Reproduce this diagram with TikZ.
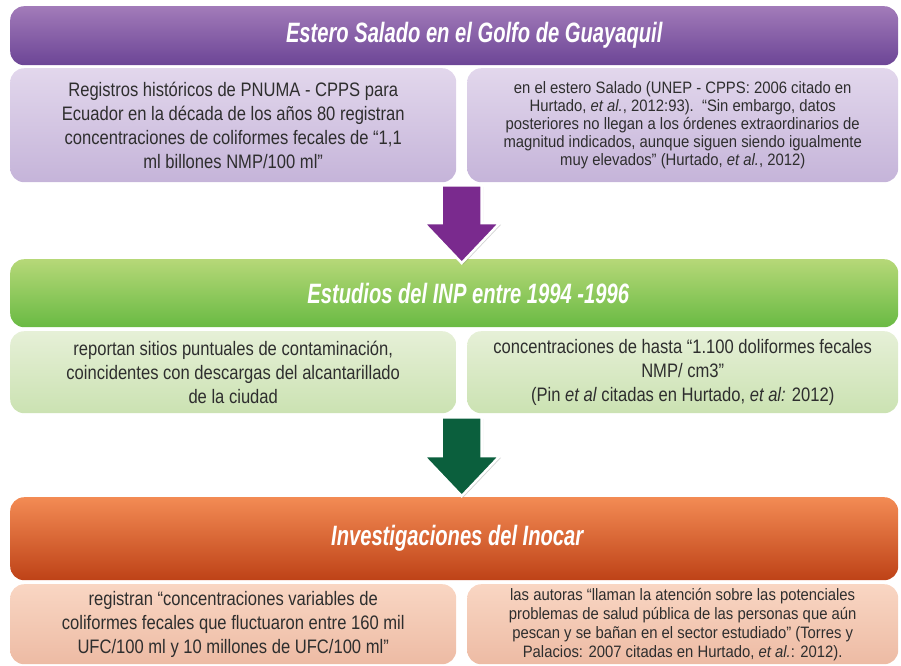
\documentclass[tikz,border=0pt]{standalone}
\usepackage{fontspec}
\setmainfont[FakeStretch=0.85]{Liberation Sans}
\newfontfamily\headfont[FakeStretch=0.72]{Liberation Sans}
\newfontfamily\notefont[FakeStretch=0.9]{Liberation Sans}
\usetikzlibrary{positioning,calc,shadows}

\definecolor{purpleTop}{HTML}{A27BB9}
\definecolor{purpleBot}{HTML}{6C4596}
\definecolor{lilacTop}{HTML}{E2D7EC}
\definecolor{lilacBot}{HTML}{C5B4D9}
\definecolor{arrowPurple}{HTML}{7A2A8E}
\definecolor{greenTop}{HTML}{B6D878}
\definecolor{greenBot}{HTML}{69BA43}
\definecolor{mintTop}{HTML}{E6F0D7}
\definecolor{mintBot}{HTML}{CBE2B2}
\definecolor{arrowGreen}{HTML}{0B5F3D}
\definecolor{orangeTop}{HTML}{F38B54}
\definecolor{orangeBot}{HTML}{BE4217}
\definecolor{peachTop}{HTML}{F9D6C3}
\definecolor{peachBot}{HTML}{EDBBA4}
\definecolor{textgray}{HTML}{2E2E2E}

% block arrow: tail, tip, colour
\newcommand{\downblock}[3]{%
  \draw[white, line width=2.5pt, fill=#3,
        drop shadow={opacity=.35, shadow xshift=1.5pt, shadow yshift=-1.5pt}]
    ($(#1)+(-20,0)$) -- ($(#1)+(20,0)$) -- ($(#2)+(20,-40)$) -- ($(#2)+(38,-40)$)
    -- (#2) -- ($(#2)+(-38,-40)$) -- ($(#2)+(-20,-40)$) -- cycle;}

\begin{document}
\begin{tikzpicture}[x=1pt,y=-1pt,
  header/.style={rounded corners=14pt, minimum width=888pt, anchor=north west, inner sep=0pt},
  box/.style={rounded corners=14pt, anchor=north west, inner sep=0pt, align=center, text=textgray},
  leftbox/.style={box, minimum width=446pt},
  rightbox/.style={box, minimum width=431pt},
  bigtext/.style={font=\fontsize{19.5}{24}\selectfont},
  smalltext/.style={font=\notefont\fontsize{16.5}{18}\selectfont},
  smalltextb/.style={font=\notefont\fontsize{16.5}{19}\selectfont},
  htext/.style={text=white, font=\headfont\bfseries\itshape\fontsize{28}{30}\selectfont},
]
\useasboundingbox (0,0) rectangle (901,665);

% Estero Salado
\node[header, minimum height=59pt, top color=purpleTop, bottom color=purpleBot] (h1) at (10,6) {};
\node[htext] (t1) at ($(h1.center)+(20,0)$) {Estero Salado en el Golfo de Guayaquil};
\node[leftbox, bigtext, minimum height=114pt, top color=lilacTop, bottom color=lilacBot] (r1l) at (10,68)
  {Registros históricos de PNUMA - CPPS para\\Ecuador en la década de los años 80 registran\\concentraciones de coliformes fecales de “1,1\\ml billones NMP/100 ml”};
\node[rightbox, smalltext, minimum height=114pt, top color=lilacTop, bottom color=lilacBot] (r1r) at (467,68)
  {en el estero Salado (UNEP - CPPS: 2006 citado en\\Hurtado, \textit{et al.}, 2012:93).~~“Sin embargo, datos\\posteriores no llegan a los órdenes extraordinarios de\\magnitud indicados, aunque siguen siendo igualmente\\muy elevados” (Hurtado, \textit{et al.}, 2012)};

% INP
\node[header, minimum height=68pt, top color=greenTop, bottom color=greenBot] (h2) at (10,259) {};
\node[htext] (t2) at ($(h2.center)+(14,0)$) {Estudios del INP entre 1994 -1996};
\node[leftbox, bigtext, minimum height=82pt, top color=mintTop, bottom color=mintBot] (r2l) at (10,331)
  {reportan sitios puntuales de contaminación,\\coincidentes con descargas del alcantarillado\\de la ciudad};
\node[rightbox, bigtext, minimum height=82pt, top color=mintTop, bottom color=mintBot] (r2r) at (467,331)
  {concentraciones de hasta “1.100 doliformes fecales\\NMP/ cm3”\\(Pin \textit{et al} citadas en Hurtado, \textit{et al:} 2012)};

% Inocar
\node[header, minimum height=83pt, top color=orangeTop, bottom color=orangeBot] (h3) at (10,497) {};
\node[htext] (t3) at ($(h3.center)+(3,0)$) {Investigaciones del Inocar};
\node[leftbox, bigtext, minimum height=80pt, top color=peachTop, bottom color=peachBot] (r3l) at (10,584)
  {registran “concentraciones variables de\\coliformes fecales que fluctuaron entre 160 mil\\UFC/100 ml y 10 millones de UFC/100 ml”};
\node[rightbox, smalltextb, minimum height=80pt, top color=peachTop, bottom color=peachBot] (r3r) at (467,584)
  {las autoras “llaman la atención sobre las potenciales\\problemas de salud pública de las personas que aún\\pescan y se bañan en el sector estudiado” (Torres y\\Palacios: 2007 citadas en Hurtado, \textit{et al.}: 2012).};

% arrows
\coordinate (a1top) at ($(r1l.south east)!.5!(r1r.south west)+(0,3)$);
\coordinate (a1tip) at ($(a1top |- h2.north)+(0,4)$);
\downblock{a1top}{a1tip}{arrowPurple}
\coordinate (a2top) at ($(r2l.south east)!.5!(r2r.south west)+(0,4)$);
\coordinate (a2tip) at ($(a2top |- h3.north)+(0,-1)$);
\downblock{a2top}{a2tip}{arrowGreen}
\end{tikzpicture}
\end{document}
